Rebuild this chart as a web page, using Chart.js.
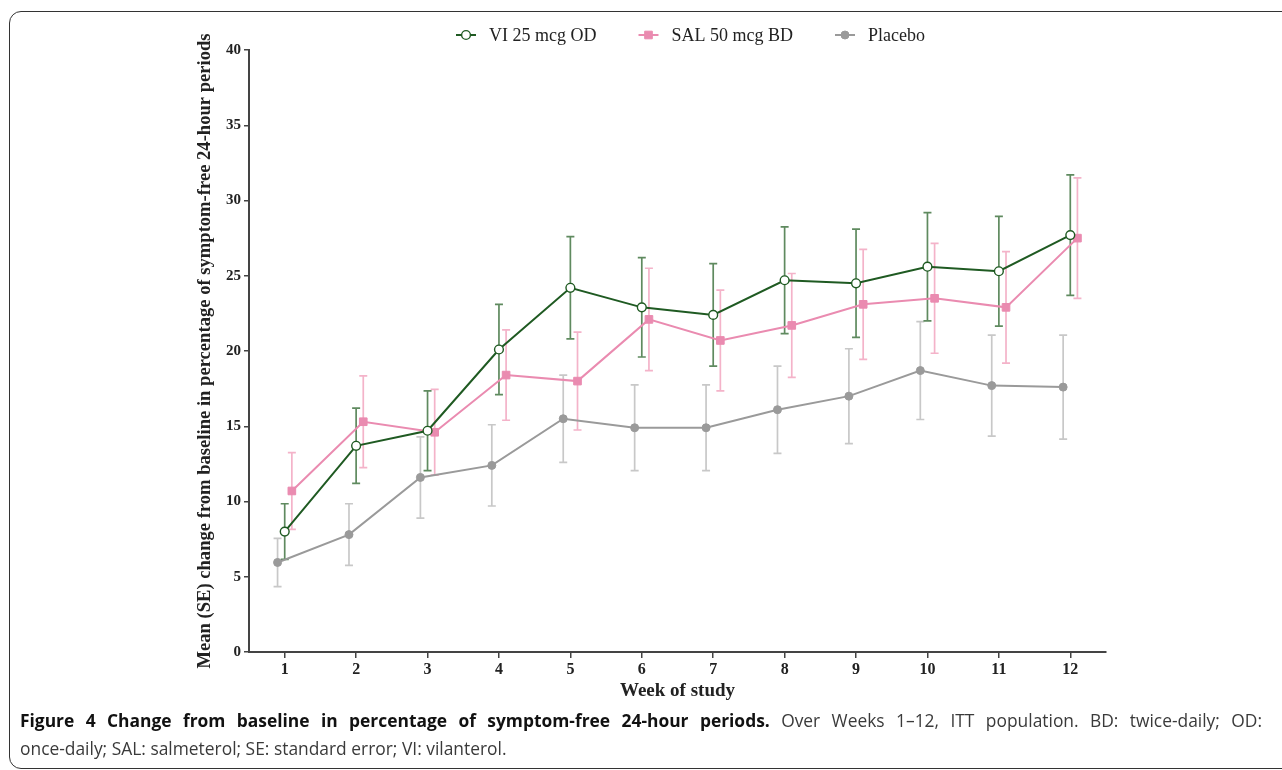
<!DOCTYPE html>
<html>
<head>
<meta charset="utf-8">
<script src="https://cdn.jsdelivr.net/npm/chart.js@4.4.0/dist/chart.umd.min.js"></script>
<style>
  html, body { margin: 0; padding: 0; background: #fff; width: 1282px; height: 770px; overflow: hidden; }
  #frame { position: absolute; left: 9px; top: 11px; width: 1320px; height: 756px; border: 1.5px solid #333; border-radius: 12px; }
  #wrap { position: absolute; left: 0; top: 0; width: 1282px; height: 710px; }
  #caption { position: absolute; left: 20px; top: 706px; width: 1242px; font-family: "Open Sans", sans-serif; font-size: 17.4px; line-height: 28px; color: #3a3a3a; }
  #caption div { white-space: nowrap; }
  #caption .l1 { text-align: justify; text-align-last: justify; }
  #caption b { color: #111; }
</style>
</head>
<body>
<div id="frame"></div>
<div id="wrap"><canvas id="chart" width="1282" height="710"></canvas></div>
<div id="caption">
  <div class="l1"><b>Figure 4 Change from baseline in percentage of symptom-free 24-hour periods.</b> Over Weeks 1–12, ITT population. BD: twice-daily; OD:</div>
  <div>once-daily; SAL: salmeterol; SE: standard error; VI: vilanterol.</div>
</div>
<script>
const weeks = [1, 2, 3, 4, 5, 6, 7, 8, 9, 10, 11, 12];
const yTicks = [0, 5, 10, 15, 20, 25, 30, 35, 40];

const viMean  = [8.0, 13.7, 14.7, 20.1, 24.2, 22.9, 22.4, 24.7, 24.5, 25.6, 25.3, 27.7];
const viSE    = [1.85, 2.5, 2.65, 3.0, 3.4, 3.3, 3.4, 3.55, 3.6, 3.6, 3.65, 4.0];
const salMean = [10.7, 15.3, 14.6, 18.4, 18.0, 22.1, 20.7, 21.7, 23.1, 23.5, 22.9, 27.5];
const salSE   = [2.55, 3.05, 2.85, 3.0, 3.25, 3.4, 3.35, 3.45, 3.65, 3.65, 3.7, 4.0];
const plMean  = [5.95, 7.8, 11.6, 12.4, 15.5, 14.9, 14.9, 16.1, 17.0, 18.7, 17.7, 17.6];
const plSE    = [1.6, 2.05, 2.7, 2.7, 2.9, 2.85, 2.85, 2.9, 3.15, 3.25, 3.35, 3.45];

const serif = 'Liberation Serif';

function points(means, shift) {
  return weeks.map((w, i) => ({ x: w + shift, y: means[i] }));
}

// vertical SE bars with caps, drawn under the lines
const errorBars = {
  id: 'errorBars',
  beforeDatasetsDraw(chart) {
    const { ctx, scales: { x, y } } = chart;
    const sets = chart.data.datasets.slice().reverse();
    sets.forEach(ds => {
      ctx.save();
      ctx.strokeStyle = ds.errorColor;
      ctx.lineWidth = 1.7;
      ds.data.forEach((p, j) => {
        const px = x.getPixelForValue(p.x);
        const top = y.getPixelForValue(p.y + ds.se[j]);
        const bot = y.getPixelForValue(p.y - ds.se[j]);
        ctx.beginPath();
        ctx.moveTo(px, top); ctx.lineTo(px, bot);
        ctx.moveTo(px - 4, top); ctx.lineTo(px + 4, top);
        ctx.moveTo(px - 4, bot); ctx.lineTo(px + 4, bot);
        ctx.stroke();
      });
      ctx.restore();
    });
  }
};

// legend: short line with marker in the middle, then label
const topLegend = {
  id: 'topLegend',
  afterDraw(chart) {
    const ctx = chart.ctx;
    const y = 35, lineLen = 20, gap = 13, spacing = 42;
    ctx.save();
    ctx.font = '18px "' + serif + '"';
    const items = chart.data.datasets;
    let total = 0;
    items.forEach((ds, i) => {
      total += lineLen + gap + ctx.measureText(ds.label).width + (i < items.length - 1 ? spacing : 0);
    });
    let x = 690.5 - total / 2;
    items.forEach(ds => {
      ctx.strokeStyle = ds.borderColor;
      ctx.lineWidth = 2;
      ctx.beginPath();
      ctx.moveTo(x, y); ctx.lineTo(x + lineLen, y);
      ctx.stroke();
      const cx = x + lineLen / 2;
      ctx.fillStyle = ds.pointBackgroundColor;
      ctx.lineWidth = ds.pointBorderWidth;
      ctx.strokeStyle = ds.pointBorderColor;
      ctx.beginPath();
      if (ds.pointStyle === 'rect') {
        const s = ds.pointRadius * Math.SQRT1_2;
        ctx.rect(cx - s, y - s, 2 * s, 2 * s);
      } else {
        ctx.arc(cx, y, ds.pointRadius, 0, Math.PI * 2);
      }
      ctx.fill();
      ctx.stroke();
      ctx.fillStyle = '#222';
      ctx.textBaseline = 'middle';
      ctx.fillText(ds.label, x + lineLen + gap, y + 1);
      x += lineLen + gap + ctx.measureText(ds.label).width + spacing;
    });
    ctx.restore();
  }
};

new Chart(document.getElementById('chart'), {
  type: 'line',
  data: {
    datasets: [{
      label: 'VI 25 mcg OD',
      data: points(viMean, 0),
      se: viSE,
      errorColor: '#5f8a5f',
      borderColor: '#1f5a22',
      borderWidth: 2,
      pointStyle: 'circle',
      pointRadius: 4.4,
      pointBackgroundColor: '#ffffff',
      pointBorderColor: '#1f5a22',
      pointBorderWidth: 1.4,
      tension: 0
    }, {
      label: 'SAL 50 mcg BD',
      data: points(salMean, 0.1),
      se: salSE,
      errorColor: '#f4b3c9',
      borderColor: '#ea8bb0',
      borderWidth: 2,
      pointStyle: 'rect',
      pointRadius: 5.4,
      pointBackgroundColor: '#ea8bb0',
      pointBorderColor: '#ea8bb0',
      pointBorderWidth: 1,
      tension: 0
    }, {
      label: 'Placebo',
      data: points(plMean, -0.1),
      se: plSE,
      errorColor: '#c8c8c8',
      borderColor: '#9a9a9a',
      borderWidth: 2,
      pointStyle: 'circle',
      pointRadius: 4,
      pointBackgroundColor: '#9a9a9a',
      pointBorderColor: '#9a9a9a',
      pointBorderWidth: 1,
      tension: 0
    }]
  },
  options: {
    responsive: false,
    animation: false,
    layout: { padding: { left: 190, right: 176, top: 50, bottom: 4 } },
    plugins: { legend: { display: false }, tooltip: { enabled: false } },
    scales: {
      x: {
        type: 'linear',
        min: 0.5,
        max: 12.5,
        afterBuildTicks: s => { s.ticks = weeks.map(v => ({ value: v })); },
        afterFit: s => { s.height = 54; },
        grid: { drawOnChartArea: false, drawTicks: true, tickLength: 6, color: '#444', lineWidth: 1.5 },
        border: { display: true, color: '#444', width: 2 },
        ticks: { font: { family: serif, weight: 'bold', size: 16 }, color: '#222', padding: 2, maxRotation: 0, autoSkip: false },
        title: { display: true, text: 'Week of study', color: '#222', font: { family: serif, weight: 'bold', size: 19 }, padding: { top: 0, bottom: 4 } }
      },
      y: {
        min: 0,
        max: 40,
        afterBuildTicks: s => { s.ticks = yTicks.map(v => ({ value: v })); },
        afterFit: s => { s.width = 59; },
        grid: { drawOnChartArea: false, drawTicks: true, tickLength: 5, color: '#444', lineWidth: 1.5 },
        border: { display: true, color: '#444', width: 2 },
        ticks: { font: { family: serif, weight: 'bold', size: 15 }, color: '#222', padding: 3 },
        title: { display: true, text: 'Mean (SE) change from baseline in percentage of symptom-free 24-hour periods', color: '#222', font: { family: serif, weight: 'bold', size: 18.6 }, padding: 4 }
      }
    }
  },
  plugins: [errorBars, topLegend]
});
</script>
</body>
</html>
